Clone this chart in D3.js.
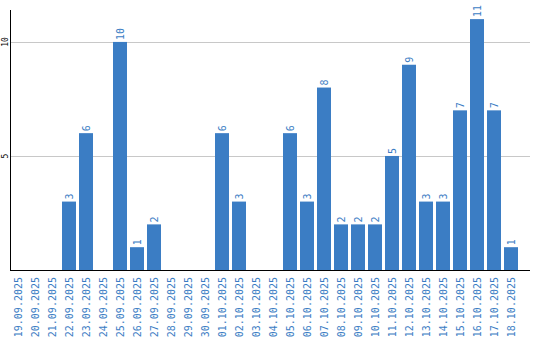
<!DOCTYPE html>
<html>
<head>
<meta charset="utf-8">
<script src="https://cdn.jsdelivr.net/npm/d3@7"></script>
<style>
    body { margin: 0; background: #fff; }
    svg { display: block; }
    .lbl { font-family: "DejaVu Sans Mono", monospace; fill: #3b7dc4; }
</style>
</head>
<body>
<svg width="540" height="340"></svg>
<script>
    // dados
    var dias = ["19.09.2025", "20.09.2025", "21.09.2025", "22.09.2025", "23.09.2025", "24.09.2025",
        "25.09.2025", "26.09.2025", "27.09.2025", "28.09.2025", "29.09.2025", "30.09.2025",
        "01.10.2025", "02.10.2025", "03.10.2025", "04.10.2025", "05.10.2025", "06.10.2025",
        "07.10.2025", "08.10.2025", "09.10.2025", "10.10.2025", "11.10.2025", "12.10.2025",
        "13.10.2025", "14.10.2025", "15.10.2025", "16.10.2025", "17.10.2025", "18.10.2025"];
    var valores = [0, 0, 0, 3, 6, 0, 10, 1, 2, 0, 0, 0, 6, 3, 0, 0, 6, 3, 8, 2, 2, 2, 5, 9, 3, 3, 7, 11, 7, 1];
    var yTicks = [5, 10];

    var svg = d3.select("svg");
    var x0 = 10, x1 = 530, yBase = 270, yTop = 10;
    var cor = "#3b7dc4";

    var dados = dias.map(function (d, i) { return { dia: d, valor: valores[i] }; });

    var x = d3.scaleBand()
        .domain(dias)
        .range([11, 11 + dias.length * 17 - 3])
        .paddingInner(3 / 17)
        .paddingOuter(0);

    var y = d3.scaleLinear()
        .domain([0, 11.4])
        .range([yBase, yTop]);

    // linhas de grade
    svg.selectAll(".grid")
        .data(yTicks)
        .enter().append("line")
        .attr("x1", x0).attr("x2", x1)
        .attr("y1", function (d) { return Math.round(y(d)) + 0.5; })
        .attr("y2", function (d) { return Math.round(y(d)) + 0.5; })
        .attr("stroke", "#c8c8c8");

    // rótulos do eixo y
    svg.selectAll(".ytick")
        .data(yTicks)
        .enter().append("text")
        .attr("transform", function (d) { return "translate(8," + Math.round(y(d)) + ") rotate(-90)"; })
        .attr("text-anchor", "middle")
        .style("font", "8px 'DejaVu Sans Mono', monospace")
        .attr("fill", "#000")
        .text(function (d) { return d; });

    // barras
    svg.selectAll(".bar")
        .data(dados)
        .enter().append("rect")
        .attr("x", function (d) { return x(d.dia); })
        .attr("y", function (d) { return y(d.valor); })
        .attr("width", x.bandwidth())
        .attr("height", function (d) { return yBase - y(d.valor); })
        .attr("fill", cor);

    // valores sobre as barras
    svg.selectAll(".val")
        .data(dados.filter(function (d) { return d.valor > 0; }))
        .enter().append("text")
        .attr("class", "lbl")
        .attr("transform", function (d) {
            return "translate(" + (x(d.dia) + x.bandwidth() / 2 + 3.5) + "," + (y(d.valor) - 2) + ") rotate(-90)";
        })
        .style("font-size", "10px")
        .text(function (d) { return d.valor; });

    // eixos
    svg.append("line")
        .attr("x1", x0 + 0.5).attr("x2", x0 + 0.5)
        .attr("y1", yTop).attr("y2", yBase + 1)
        .attr("stroke", "#000");
    svg.append("line")
        .attr("x1", x0).attr("x2", x1)
        .attr("y1", yBase + 0.5).attr("y2", yBase + 0.5)
        .attr("stroke", "#000");

    // rótulos do eixo x
    svg.selectAll(".xtick")
        .data(dias)
        .enter().append("text")
        .attr("class", "lbl")
        .attr("transform", function (d) { return "translate(" + (x(d) + x.bandwidth() / 2 + 3.5) + "," + (yBase + 7) + ") rotate(-90)"; })
        .attr("text-anchor", "end")
        .style("font-size", "10px")
        .text(function (d) { return d; });
</script>
</body>
</html>
